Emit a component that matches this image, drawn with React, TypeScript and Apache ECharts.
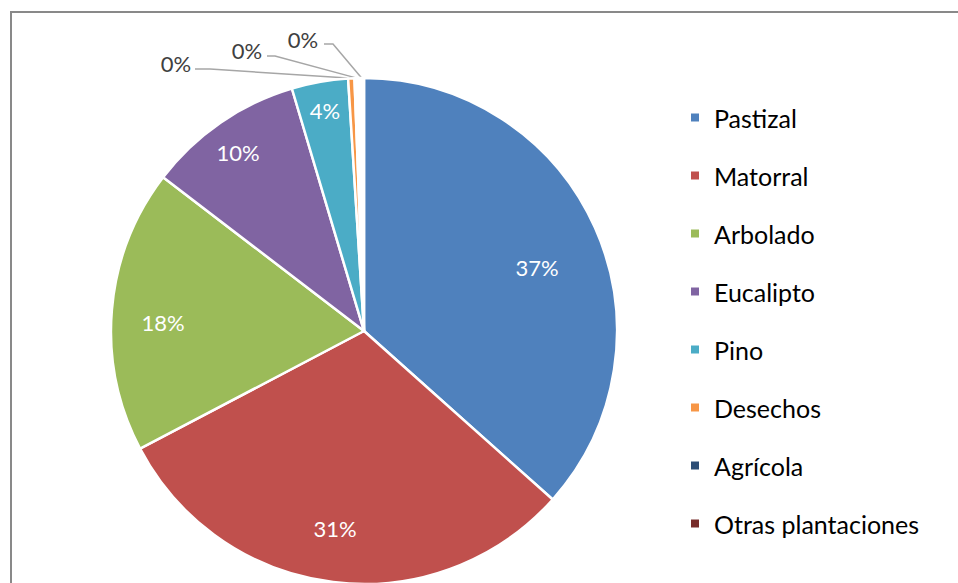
import React, { useEffect, useRef } from "react";
import * as echarts from "echarts";

const categories = ["Pastizal", "Matorral", "Arbolado", "Eucalipto", "Pino", "Desechos", "Agrícola", "Otras plantaciones"];
const values = [36.6, 30.7, 18.1, 10.0, 3.6, 0.4, 0.3, 0.3];
const colors = ["#4F81BD", "#C0504D", "#9BBB59", "#8064A2", "#4BACC6", "#F79646", "#2C4D75", "#772C2A"];

// layout constants
const CX = 364;
const CY = 331;
const R = 253;
const LABEL_POS: Record<number, [number, number]> = {
  0: [537, 267],
  1: [335, 528],
  2: [163, 322],
  3: [238, 152],
  4: [325, 110],
  5: [176, 63],
  6: [247, 50],
  7: [303, 39],
};
const LEADER: Record<number, [number, number][]> = {
  5: [[210, 69], [195, 69]],
  6: [[275, 56], [267, 56]],
  7: [[333, 44], [324, 44]],
};

function midPoint(i: number): [number, number] {
  const total = values.reduce((a, b) => a + b, 0);
  let cum = 0;
  for (let k = 0; k < i; k++) cum += values[k];
  const theta = ((cum + values[i] / 2) / total) * Math.PI * 2;
  return [CX + R * Math.sin(theta), CY - R * Math.cos(theta)];
}

export default function App() {
  const ref = useRef<HTMLDivElement>(null);
  useEffect(() => {
    if (!ref.current) return;
    const chart = echarts.init(ref.current, null, { renderer: "svg" });
    const font = "Lato, 'Open Sans', sans-serif";
    const data = categories.map((name, i) => {
      const small = i >= 5;
      const fillWhite = i >= 6;
      return {
        name,
        value: values[i],
        itemStyle: { color: fillWhite ? "#ffffff" : colors[i] },
        label: small ? { position: "outside", color: "#404040" } : undefined,
        labelLine: small ? { show: true } : undefined,
      };
    });
    chart.setOption({
      animation: false,
      backgroundColor: "#ffffff",
      graphic: [
        {
          type: "rect",
          shape: { x: 11, y: 12, width: 1000, height: 700 },
          style: { fill: "none", stroke: "#898989", lineWidth: 2 },
          silent: true,
          z: -10,
        },
      ],
      legend: {
        orient: "vertical",
        left: 684,
        top: 100,
        icon: "rect",
        itemWidth: 10,
        itemHeight: 10,
        itemGap: 33,
        textStyle: {
          fontFamily: font,
          fontSize: 25,
          lineHeight: 24,
          color: "#000000",
          padding: [0, 0, 0, 9],
        },
        data: categories.map((name, i) => ({ name, itemStyle: { color: colors[i] } })),
      },
      series: [
        {
          type: "pie",
          center: [CX, CY],
          radius: R,
          startAngle: 90,
          clockwise: true,
          avoidLabelOverlap: false,
          itemStyle: { borderColor: "#ffffff", borderWidth: 2.5 },
          emphasis: { disabled: true },
          label: {
            show: true,
            position: "inside",
            color: "#ffffff",
            fontFamily: font,
            fontSize: 22,
            formatter: (p: any) => Math.round(p.percent) + "%",
          },
          labelLine: { show: false, lineStyle: { color: "#A6A6A6", width: 1.5 } },
          labelLayout: (params: any) => {
            const i = params.dataIndex;
            const p = LABEL_POS[i];
            const res: any = { x: p[0], y: p[1], align: "center", verticalAlign: "middle" };
            if (LEADER[i]) {
              res.labelLinePoints = [midPoint(i), LEADER[i][0], LEADER[i][1]];
            }
            return res;
          },
          data,
        },
      ],
    });
    return () => chart.dispose();
  }, []);
  return (
    <div
      ref={ref}
      style={{ position: "fixed", left: 0, top: 0, width: 958, height: 583 }}
    />
  );
}
